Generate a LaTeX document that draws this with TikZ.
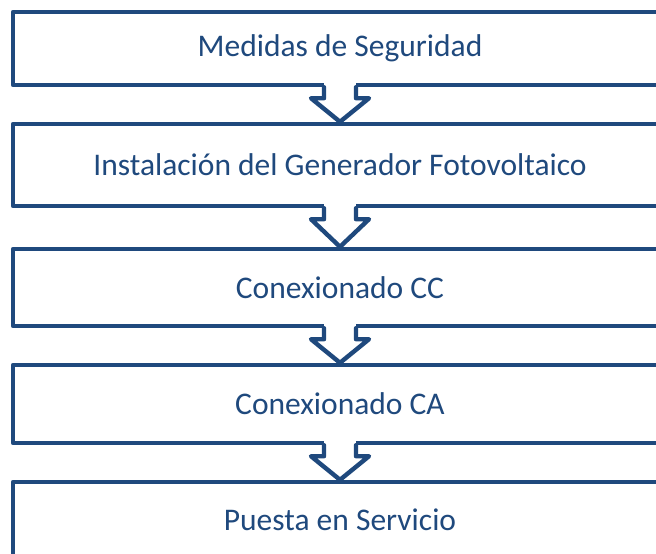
\documentclass[tikz,border=0pt]{standalone}
\usepackage{fontspec}
\setmainfont{Carlito}
\usetikzlibrary{calc}
\definecolor{navy}{HTML}{1F497D}
\tikzset{
  stepbox/.style={draw=navy, line width=4.4pt, line join=round, rectangle,
    minimum width=654pt, inner sep=0pt, text=navy, font=\fontsize{31.5}{36}\selectfont},
  arrowline/.style={draw=navy, line width=4.4pt, line join=round, line cap=round},
}
\begin{document}
\begin{tikzpicture}[x=1pt,y=-1pt]
\useasboundingbox (0,0) rectangle (656,554);
\clip (0,0) rectangle (656,554);
\fill[white] (0,0) rectangle (656,554);
\node[stepbox, minimum height=73pt] (b1) at (340,48.5) {Medidas de Seguridad};
\node[stepbox, minimum height=82pt] (b2) at (340,165) {Instalación del Generador Fotovoltaico};
\node[stepbox, minimum height=77pt] (b3) at (340,287.5) {Conexionado CC};
\node[stepbox, minimum height=78pt] (b4) at (340,404) {Conexionado CA};
\node[stepbox, minimum height=76pt] (b5) at (340,520) {Puesta en Servicio};
\foreach \a/\b in {b1/b2,b2/b3,b3/b4,b4/b5}{
  \fill[white] ($(\a.south)+(-16,-4)$) rectangle ($(\a.south)+(16,4)$);
  \draw[arrowline] ($(\a.south)+(-16,0)$) -- ($(\a.south)+(-16,11)$) -- ($(\a.south)+(-29,11)$)
    -- (\b.north) -- ($(\a.south)+(29,11)$) -- ($(\a.south)+(16,11)$) -- ($(\a.south)+(16,0)$);
}
\end{tikzpicture}
\end{document}
